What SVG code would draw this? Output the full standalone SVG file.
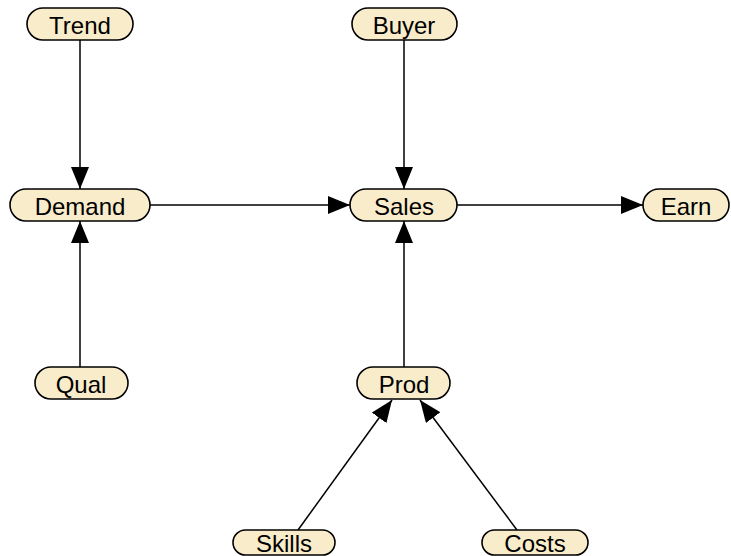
<svg xmlns="http://www.w3.org/2000/svg" width="731" height="556" viewBox="0 0 731 556">
  <style>
    .node rect { fill: #f9ecca; stroke: #000; stroke-width: 1.6; }
    .node text { font-family: "Liberation Sans", Arial, sans-serif; font-size: 24px; fill: #000; text-anchor: middle; dominant-baseline: central; }
    .edge { stroke: #000; stroke-width: 1.5; fill: none; marker-end: url(#arrow); }
  </style>
  <defs>
    <marker id="arrow" markerUnits="userSpaceOnUse" markerWidth="22" markerHeight="18" viewBox="0 0 22 18" refX="22" refY="9" orient="auto">
      <path d="M0,0 L22,9 L0,18 Z" fill="#000"/>
    </marker>
  </defs>
  <rect width="731" height="556" fill="#fff"/>

  <g id="connectors">
    <line class="edge" x1="80" y1="40" x2="80" y2="189"/>
    <line class="edge" x1="80" y1="367" x2="80" y2="221"/>
    <line class="edge" x1="404" y1="40" x2="404" y2="189"/>
    <line class="edge" x1="150" y1="205" x2="350" y2="205"/>
    <line class="edge" x1="457" y1="205" x2="643" y2="205"/>
    <line class="edge" x1="404" y1="367" x2="404" y2="221"/>
    <line class="edge" x1="298" y1="530" x2="392" y2="400"/>
    <line class="edge" x1="517" y1="530" x2="420" y2="400"/>
  </g>

  <g id="trend" class="node"><rect x="27" y="8" width="106" height="32" rx="16"/><text x="80" y="25">Trend</text></g>
  <g id="buyer" class="node"><rect x="352" y="8" width="105" height="32" rx="16"/><text x="404" y="25">Buyer</text></g>
  <g id="demand" class="node"><rect x="10" y="189" width="140" height="32" rx="16"/><text x="80" y="206">Demand</text></g>
  <g id="sales" class="node"><rect x="350" y="189" width="107" height="32" rx="16"/><text x="404" y="206">Sales</text></g>
  <g id="earn" class="node"><rect x="643" y="189" width="86" height="32" rx="16"/><text x="686" y="206">Earn</text></g>
  <g id="qual" class="node"><rect x="35" y="367" width="93" height="32" rx="16"/><text x="81" y="384">Qual</text></g>
  <g id="prod" class="node"><rect x="357" y="367" width="93" height="32" rx="16"/><text x="404" y="384">Prod</text></g>
  <g id="skills" class="node"><rect x="233" y="530" width="102" height="25" rx="12.5"/><text x="284" y="543">Skills</text></g>
  <g id="costs" class="node"><rect x="482" y="530" width="106" height="25" rx="12.5"/><text x="535" y="543">Costs</text></g>
</svg>
